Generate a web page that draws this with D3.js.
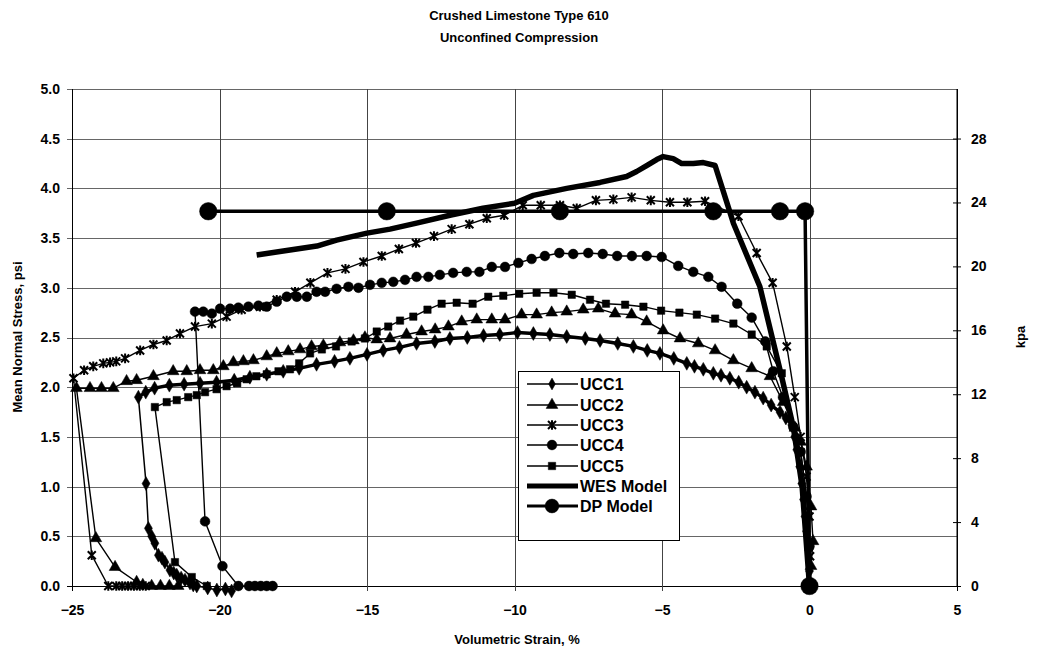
<!DOCTYPE html>
<html><head><meta charset="utf-8">
<script src="https://cdn.jsdelivr.net/npm/d3@7"></script>
<style>
html,body{margin:0;padding:0;background:#fff;}
text{font-family:"Liberation Sans",Arial,sans-serif;font-weight:bold;fill:#000;}
</style></head>
<body><svg id="c" width="1039" height="657"></svg>
<script>
const titleLines = ["Crushed Limestone Type 610", "Unconfined Compression"];
const xTicks = [-25, -20, -15, -10, -5, 0, 5];
const yTicks = [0, 0.5, 1.0, 1.5, 2.0, 2.5, 3.0, 3.5, 4.0, 4.5, 5.0];
const kpaTicks = [0, 4, 8, 12, 16, 20, 24, 28];
const seriesNames = ["UCC1", "UCC2", "UCC3", "UCC4", "UCC5", "WES Model", "DP Model"];

const ucc1 = [[0,0],[0,0.15],[-0.03,0.36],[-0.1,0.55],[-0.15,0.70],[-0.2,0.87],[-0.26,1.03],[-0.33,1.2],[-0.43,1.37],[-0.5,1.5],[-0.6,1.62],[-0.8,1.69],[-1.0,1.75],[-1.3,1.82],[-1.57,1.89],[-1.85,1.95],[-2.13,2.0],[-2.4,2.05],[-2.7,2.09],[-3.0,2.12],[-3.26,2.14],[-3.6,2.18],[-3.9,2.21],[-4.16,2.24],[-4.6,2.29],[-5.07,2.34],[-5.5,2.37],[-5.97,2.41],[-6.5,2.44],[-7.1,2.47],[-7.6,2.49],[-8.23,2.51],[-8.8,2.53],[-9.36,2.54],[-9.9,2.55],[-10.5,2.53],[-11.05,2.52],[-11.6,2.50],[-12.19,2.49],[-12.7,2.46],[-13.32,2.44],[-13.9,2.40],[-14.45,2.37],[-15.0,2.33],[-15.58,2.29],[-16.1,2.26],[-16.71,2.23],[-17.3,2.19],[-17.84,2.16],[-18.4,2.13],[-18.97,2.10],[-19.5,2.07],[-20.1,2.05],[-20.66,2.04],[-21.2,2.03],[-21.7,2.02],[-22.2,1.99],[-22.5,1.95],[-22.75,1.90],[-22.49,1.03],[-22.41,0.58],[-22.3,0.5],[-22.19,0.43],[-22.07,0.31],[-21.95,0.28],[-21.85,0.24],[-21.68,0.16],[-21.55,0.13],[-21.45,0.11],[-21.3,0.08],[-21.17,0.06],[-21.0,0.03],[-20.89,0.01],[-20.77,0],[-20.4,-0.02],[-20.09,-0.04],[-19.8,-0.03],[-19.59,-0.05]];
const ucc2 = [[0,0],[0.05,0.2],[0.12,0.45],[0.05,0.8],[-0.1,1.2],[-0.3,1.45],[-0.49,1.59],[-0.89,1.85],[-1.34,2.11],[-1.96,2.19],[-2.58,2.27],[-3.2,2.37],[-3.77,2.44],[-4.39,2.49],[-4.96,2.57],[-5.52,2.66],[-6.03,2.73],[-6.59,2.74],[-7.16,2.79],[-7.67,2.78],[-8.23,2.76],[-8.74,2.75],[-9.25,2.73],[-9.76,2.73],[-10.32,2.68],[-10.77,2.68],[-11.28,2.68],[-11.79,2.66],[-12.24,2.61],[-12.69,2.58],[-13.15,2.56],[-13.66,2.53],[-14.22,2.49],[-14.67,2.48],[-15.07,2.50],[-15.46,2.47],[-15.92,2.45],[-16.48,2.42],[-16.88,2.41],[-17.27,2.38],[-17.67,2.36],[-18.06,2.34],[-18.4,2.31],[-18.85,2.27],[-19.19,2.26],[-19.53,2.25],[-19.87,2.21],[-20.21,2.17],[-20.66,2.17],[-21.11,2.16],[-21.57,2.16],[-22.24,2.11],[-22.81,2.07],[-23.15,2.06],[-23.6,1.99],[-24.0,1.99],[-24.39,1.99],[-24.85,1.99],[-24.19,0.48],[-23.54,0.19],[-22.81,0.04],[-22.6,0.01],[-22.3,0],[-22.0,0],[-21.7,0],[-21.4,0]];
const ucc3 = [[0,0],[0.02,0.3],[0,0.7],[-0.1,1.1],[-0.3,1.5],[-0.5,1.9],[-0.77,2.41],[-1.25,3.05],[-1.79,3.35],[-2.41,3.72],[-3.54,3.87],[-4.14,3.86],[-4.73,3.86],[-5.38,3.88],[-6.03,3.91],[-6.65,3.89],[-7.24,3.88],[-7.89,3.80],[-8.46,3.83],[-9.11,3.83],[-9.72,3.83],[-10.35,3.73],[-10.94,3.70],[-11.53,3.64],[-12.13,3.59],[-12.73,3.52],[-13.34,3.45],[-13.92,3.39],[-14.5,3.32],[-15.12,3.26],[-15.73,3.19],[-16.34,3.15],[-16.92,3.05],[-17.44,2.96],[-18.06,2.88],[-18.63,2.81],[-19.25,2.78],[-19.76,2.71],[-20.26,2.64],[-20.83,2.61],[-21.34,2.54],[-21.79,2.47],[-22.24,2.43],[-22.69,2.37],[-23.2,2.29],[-23.5,2.26],[-23.71,2.25],[-23.94,2.24],[-24.28,2.21],[-24.59,2.17],[-24.95,2.09],[-24.33,0.31],[-23.77,0],[-23.5,0],[-23.3,0],[-23.1,0],[-22.9,0],[-22.7,0],[-22.5,0]];
const ucc4 = [[0,0],[0,0.4],[-0.1,0.9],[-0.3,1.35],[-0.55,1.6],[-0.9,1.9],[-1.23,2.16],[-1.5,2.46],[-1.96,2.70],[-2.45,2.84],[-2.98,3.01],[-3.43,3.11],[-3.94,3.16],[-4.45,3.22],[-5.01,3.31],[-5.52,3.32],[-6.02,3.32],[-6.52,3.32],[-7.01,3.34],[-7.5,3.35],[-8.01,3.34],[-8.48,3.35],[-8.97,3.32],[-9.42,3.29],[-9.87,3.25],[-10.32,3.21],[-10.77,3.21],[-11.19,3.16],[-11.62,3.16],[-12.08,3.15],[-12.53,3.13],[-12.92,3.11],[-13.32,3.11],[-13.71,3.08],[-14.11,3.06],[-14.5,3.05],[-14.9,3.03],[-15.29,3.0],[-15.63,3.01],[-16.03,2.99],[-16.42,2.96],[-16.71,2.96],[-17.04,2.91],[-17.38,2.91],[-17.72,2.91],[-18.06,2.86],[-18.4,2.81],[-18.68,2.82],[-19.02,2.81],[-19.36,2.80],[-19.64,2.79],[-19.98,2.79],[-20.26,2.74],[-20.55,2.76],[-20.83,2.76],[-20.49,0.65],[-19.9,0.20],[-19.36,0],[-19.0,0],[-18.8,0],[-18.6,0],[-18.4,0],[-18.2,0]];
const ucc5 = [[0,0],[0,0.4],[-0.1,0.9],[-0.3,1.35],[-0.55,1.6],[-0.94,2.14],[-1.45,2.41],[-1.96,2.53],[-2.58,2.64],[-3.2,2.69],[-3.82,2.73],[-4.41,2.75],[-5.03,2.77],[-5.63,2.81],[-6.25,2.83],[-6.9,2.84],[-7.44,2.88],[-8.06,2.93],[-8.68,2.95],[-9.25,2.95],[-9.84,2.94],[-10.38,2.92],[-10.89,2.91],[-11.42,2.84],[-11.96,2.85],[-12.47,2.84],[-12.95,2.78],[-13.43,2.71],[-13.88,2.67],[-14.28,2.61],[-14.67,2.56],[-15.07,2.49],[-15.52,2.46],[-16.05,2.41],[-16.53,2.38],[-16.93,2.34],[-17.3,2.24],[-17.61,2.18],[-18.0,2.16],[-18.4,2.13],[-18.75,2.11],[-19.08,2.08],[-19.4,2.04],[-19.76,2.01],[-20.1,1.98],[-20.49,1.95],[-20.77,1.92],[-21.06,1.90],[-21.45,1.87],[-21.79,1.85],[-22.19,1.80],[-21.51,0.24],[-20.94,0.09],[-20.43,0]];
const wes = [[-18.74,3.33],[-17.61,3.38],[-16.7,3.42],[-16.03,3.48],[-15.0,3.55],[-14.22,3.59],[-13.32,3.65],[-12.19,3.73],[-11.07,3.80],[-10.0,3.85],[-9.36,3.93],[-8.23,4.0],[-7.1,4.06],[-6.2,4.12],[-5.86,4.17],[-5.52,4.23],[-5.18,4.29],[-4.96,4.32],[-4.62,4.30],[-4.33,4.25],[-3.94,4.25],[-3.6,4.26],[-3.2,4.23],[-2.58,3.65],[-1.68,3.01],[-0.94,2.1],[-0.55,1.6],[-0.25,1.0],[0,0]];
const dp = [[-20.38,3.77],[-14.33,3.77],[-8.46,3.77],[-3.26,3.77],[-1.0,3.77],[-0.15,3.77],[0,0]];

const svg = d3.select("#c");
const L = 72, R = 957, T = 89, B = 586;
const x = d3.scaleLinear().domain([-25, 5]).range([L, R]);
const y = d3.scaleLinear().domain([0, 5]).range([B, T]);
const yk = d3.scaleLinear().domain([0, 31.1]).range([B, T]);

svg.append("g").selectAll("text").data(titleLines).join("text")
  .attr("x", 519).attr("y", (d, i) => 20 + i * 22).attr("text-anchor", "middle")
  .style("font-size", "13px").text(d => d);

const grid = svg.append("g");
grid.selectAll("line.h").data(yTicks).join("line")
  .attr("x1", L - 5).attr("x2", R).attr("y1", d => Math.round(y(d)) + 0.5).attr("y2", d => Math.round(y(d)) + 0.5)
  .attr("stroke", d => d === 0 ? "#000" : "#666").attr("stroke-width", 1);
grid.selectAll("line.v").data(xTicks).join("line")
  .attr("y1", T).attr("y2", B + 5).attr("x1", d => Math.round(x(d)) + 0.5).attr("x2", d => Math.round(x(d)) + 0.5)
  .attr("stroke", d => (d === -25 || d === 5) ? "#000" : "#444").attr("stroke-width", 1);

const xAxis = d3.axisBottom(x).tickValues(xTicks).tickSize(0).tickPadding(19).tickFormat(d3.format("d"));
const gx = svg.append("g").attr("transform", `translate(0,${B})`).call(xAxis);
gx.select(".domain").remove();
gx.selectAll("text").style("font-size", "14px").style("font-family", "Liberation Sans, Arial").style("font-weight", "bold");

const yAxis = d3.axisLeft(y).tickValues(yTicks).tickSize(0).tickPadding(12).tickFormat(d3.format(".1f"));
const gy = svg.append("g").attr("transform", `translate(${L},0)`).call(yAxis);
gy.select(".domain").remove();
gy.selectAll("text").style("font-size", "14px").style("font-family", "Liberation Sans, Arial").style("font-weight", "bold");

const kAxis = d3.axisRight(yk).tickValues(kpaTicks).tickSize(4).tickPadding(10).tickFormat(d3.format("d"));
const gk = svg.append("g").attr("transform", `translate(${R},0)`).call(kAxis);
gk.select(".domain").attr("d", `M0,${T}V${B}`).attr("stroke", "#000");
gk.selectAll(".tick line").attr("x1", -4).attr("stroke", "#000");
gk.selectAll("text").style("font-size", "14px").style("font-family", "Liberation Sans, Arial").style("font-weight", "bold");

svg.append("text").attr("x", 517).attr("y", 644).attr("text-anchor", "middle").style("font-size", "13px").text("Volumetric Strain, %");
svg.append("text").attr("transform", "translate(22,337) rotate(-90)").attr("text-anchor", "middle").style("font-size", "13px").text("Mean Normal Stress, psi");
svg.append("text").attr("transform", "translate(1025,337) rotate(-90)").attr("text-anchor", "middle").style("font-size", "13px").text("kpa");

const asterisk = {draw(ctx, size) { const r = Math.sqrt(size) / 2;
  ctx.moveTo(-r, -r); ctx.lineTo(r, r); ctx.moveTo(-r, r); ctx.lineTo(r, -r); ctx.moveTo(0, -r * 1.2); ctx.lineTo(0, r * 1.2); }};
const styles = [
  {data: ucc1, sym: d3.symbolDiamond, size: 55, lw: 1.5, band: 3.4, fill: true},
  {data: ucc2, sym: d3.symbolTriangle, size: 60, lw: 1.4, fill: true},
  {data: ucc3, sym: asterisk, size: 64, lw: 1.4, fill: false},
  {data: ucc4, sym: d3.symbolCircle, size: 75, lw: 1.4, fill: true},
  {data: ucc5, sym: d3.symbolSquare, size: 55, lw: 1.4, fill: true},
  {data: wes, sym: null, lw: 5.5},
  {data: dp, sym: d3.symbolCircle, size: 240, lw: 3.5, fill: true}
];
const line = d3.line().x(d => x(d[0])).y(d => y(d[1]));
const plot = svg.append("g");
styles.forEach(s => {
  plot.append("path").attr("d", line(s.data)).attr("fill", "none").attr("stroke", "#000")
    .attr("stroke-width", s.lw).attr("stroke-linejoin", "round");
  if (s.band) {
    // dense-marker band along the loading branch (up to the leftmost point)
    const iMin = d3.minIndex(s.data, d => d[0]);
    plot.append("path").attr("d", line(s.data.slice(0, iMin + 1))).attr("fill", "none").attr("stroke", "#000")
      .attr("stroke-width", s.band).attr("stroke-linejoin", "round");
  }
  if (s.sym) {
    plot.append("g").selectAll("path").data(s.data).join("path")
      .attr("transform", d => `translate(${x(d[0])},${y(d[1])})`)
      .attr("d", d3.symbol(s.sym, s.size))
      .attr("fill", s.fill ? "#000" : "none").attr("stroke", "#000").attr("stroke-width", s.fill ? 0.5 : 2);
  }
});

const lg = svg.append("g");
lg.append("rect").attr("x", 518.5).attr("y", 371.5).attr("width", 161).attr("height", 169)
  .attr("fill", "#fff").attr("stroke", "#000").attr("stroke-width", 1);
const ly = [384, 405, 425, 445, 466, 486, 506];
styles.forEach((s, i) => {
  lg.append("line").attr("x1", 527).attr("x2", 578).attr("y1", ly[i]).attr("y2", ly[i])
    .attr("stroke", "#000").attr("stroke-width", i === 5 ? 5 : (i === 6 ? 3 : 1.5));
  if (s.sym) {
    lg.append("path").attr("transform", `translate(552,${ly[i]})`)
      .attr("d", d3.symbol(s.sym, i === 6 ? 150 : (i === 0 ? 40 : s.size)))
      .attr("fill", s.fill ? "#000" : "none").attr("stroke", "#000").attr("stroke-width", s.fill ? 0.5 : 2);
  }
  lg.append("text").attr("x", 580).attr("y", ly[i] + 6).style("font-size", "16px").text(seriesNames[i]);
});
</script></body></html>
